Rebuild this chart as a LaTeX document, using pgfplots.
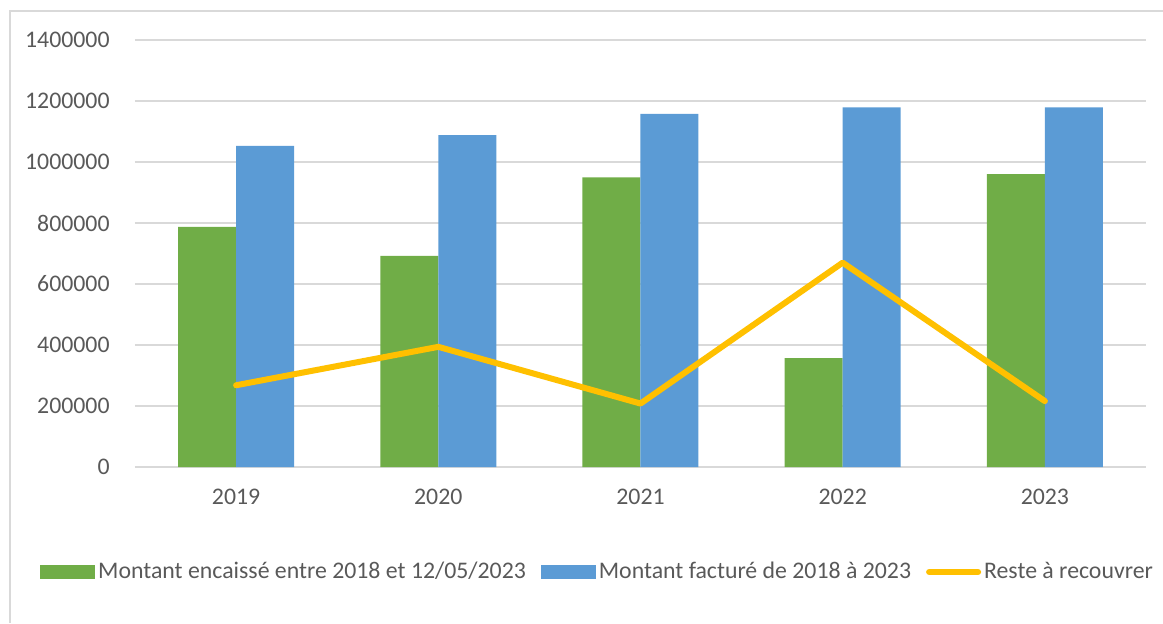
\documentclass[border=0pt]{standalone}
\usepackage{pgfplots}
\pgfplotsset{compat=1.18}
\usepackage{fontspec}
\setmainfont{Carlito}
\definecolor{cgreen}{HTML}{70AD47}
\definecolor{cblue}{HTML}{5B9BD5}
\definecolor{cgold}{HTML}{FFC000}
\definecolor{cgrid}{HTML}{D9D9D9}
\definecolor{ctext}{HTML}{595959}
\begin{document}
\begin{tikzpicture}
\path[use as bounding box] (0,0) rectangle (581.5pt,311.5pt);
\draw[cgrid, line width=1pt] (5pt,0) -- (5pt,306pt) -- (581.5pt,306pt);
\begin{axis}[
  at={(67.5pt,78pt)}, anchor=south west,
  scale only axis, width=505.5pt, height=213.5pt,
  xmin=-0.5, xmax=4.5, ymin=0, ymax=1400000,
  xtick={0,1,2,3,4}, xticklabels={2019,2020,2021,2022,2023},
  ytick={0,200000,400000,600000,800000,1000000,1200000,1400000},
  yticklabels={0,200000,400000,600000,800000,1000000,1200000,1400000},
  scaled y ticks=false,
  axis line style={draw=none},
  major tick length=0pt,
  ymajorgrids, grid style={cgrid, line width=1pt},
  font=\fontsize{11.9}{14}\selectfont,
  ticklabel style={text=ctext, font=\fontsize{11.9}{14}\selectfont},
  yticklabel style={anchor=east, inner sep=0pt, xshift=-12.5pt},
  xticklabel style={anchor=north, inner sep=0pt, yshift=-11pt},
  legend style={at={(0.458,-0.246)}, anchor=center, draw=none, fill=none,
    legend columns=3, text=ctext, font=\fontsize{11.9}{14}\selectfont,
    nodes={inner sep=1.5pt},
    /tikz/every even column/.append style={column sep=6pt}},
  legend cell align=left,
]
\addplot[ybar, bar width=29pt, bar shift=-14.5pt, fill=cgreen, draw=none,
  area legend,
  legend image code/.code={\fill[cgreen] (0pt,-3.5pt) rectangle (27.5pt,3.5pt);}]
  coordinates {(0,787000) (1,692000) (2,950000) (3,357000) (4,960000)};
\addlegendentry{Montant encaissé entre 2018 et 12/05/2023}
\addplot[ybar, bar width=29pt, bar shift=14.5pt, fill=cblue, draw=none,
  area legend,
  legend image code/.code={\fill[cblue] (0pt,-3.5pt) rectangle (27.5pt,3.5pt);}]
  coordinates {(0,1053000) (1,1088000) (2,1158000) (3,1179000) (4,1179000)};
\addlegendentry{Montant facturé de 2018 à 2023}
\addplot[sharp plot, cgold, line width=3pt, line cap=round, line join=round, mark=none,
  legend image code/.code={\draw[cgold, line width=3pt, line cap=round] (1.5pt,0pt) -- (26pt,0pt);}]
  coordinates {(0,268000) (1,394000) (2,208000) (3,670000) (4,216000)};
\addlegendentry{Reste à recouvrer}
\end{axis}
\end{tikzpicture}
\end{document}
